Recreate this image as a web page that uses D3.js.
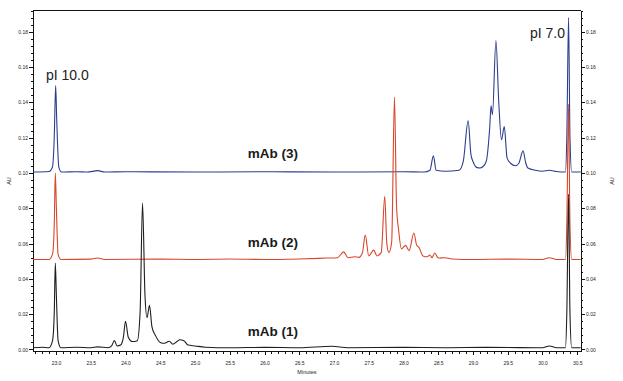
<!DOCTYPE html>
<html>
<head>
<meta charset="utf-8">
<script src="https://cdn.jsdelivr.net/npm/d3@7"></script>
<style>
  body { margin: 0; background: #fff; }
  svg { display: block; font-family: "Liberation Sans", Arial, sans-serif; }
  .axis path, .axis line { stroke: #111; stroke-width: 1; shape-rendering: crispEdges; }
  .axis text { font-size: 5px; fill: #222; }
</style>
</head>
<body>
<svg id="chart" width="623" height="381"></svg>
<script>
// trace names, baselines (AU) and colours
var names = ["mAb (1)", "mAb (2)", "mAb (3)"];
var baselines = [0.001, 0.051, 0.1005];
var colors = ["#1e1e1e", "#d8462c", "#2b3f8e"];

// [minutes, AU above baseline]
var mab1 = [[22.67,0],[22.8,0.0003],[22.9,0],[22.95,0.004],[22.975,0.02],[22.99,0.048],[23.005,0.03],[23.03,0.004],[23.07,0],[23.3,0.0003],[23.5,0],[23.6,0.0005],[23.75,0],[23.8,0.001],[23.84,0.004],[23.88,0.001],[23.93,0.0015],[23.97,0.006],[24.0,0.015],[24.04,0.006],[24.1,0.0035],[24.17,0.004],[24.21,0.02],[24.245,0.082],[24.28,0.03],[24.31,0.017],[24.345,0.024],[24.38,0.012],[24.43,0.007],[24.5,0.003],[24.56,0.0025],[24.63,0.0037],[24.68,0.002],[24.74,0.0035],[24.78,0.0045],[24.84,0.004],[24.9,0.0015],[25.0,0.001],[25.15,0.0003],[25.5,0],[26.0,0.0002],[26.5,0],[26.97,0.0008],[27.2,0],[28.0,0.0002],[28.6,0],[29.2,0.0002],[30.0,0],[30.1,0.001],[30.2,0],[30.33,0],[30.35,0.02],[30.375,0.087],[30.395,0.02],[30.42,0],[30.55,0]];
var mab2 = [[22.67,0],[22.9,0],[22.95,0.003],[22.975,0.02],[22.99,0.049],[23.005,0.03],[23.03,0.003],[23.07,0],[23.5,0.0002],[23.6,0.0008],[23.7,0],[24.5,0.0002],[25.0,0],[25.5,0.0003],[26.0,0],[26.5,0.0003],[26.9,0.0008],[27.05,0.001],[27.14,0.0043],[27.2,0.001],[27.3,0.0015],[27.36,0.0012],[27.41,0.004],[27.45,0.0138],[27.5,0.002],[27.57,0.0053],[27.62,0.002],[27.68,0.004],[27.73,0.0358],[27.76,0.009],[27.79,0.004],[27.83,0.01],[27.87,0.092],[27.9,0.03],[27.93,0.0166],[27.97,0.006],[28.03,0.008],[28.08,0.005],[28.15,0.015],[28.19,0.008],[28.22,0.007],[28.28,0.002],[28.34,0.0015],[28.38,0.0025],[28.41,0.001],[28.45,0.0037],[28.5,0.0008],[28.59,0.001],[28.7,0.0003],[29.0,0],[29.5,0.0002],[30.0,0],[30.1,0.001],[30.2,0],[30.33,0],[30.35,0.02],[30.375,0.088],[30.395,0.02],[30.42,0],[30.55,0]];
var mab3 = [[22.67,0],[22.9,0.0003],[22.95,0.003],[22.975,0.02],[22.995,0.049],[23.01,0.03],[23.04,0.003],[23.08,0],[23.3,0.0002],[23.45,0],[23.6,0.0008],[23.7,0],[24.0,0.0002],[25,0],[26,0.0002],[27,0],[28,0.0002],[28.3,0],[28.38,0.001],[28.43,0.0092],[28.47,0.001],[28.6,0.0005],[28.8,0.001],[28.86,0.006],[28.93,0.029],[28.97,0.01],[29.0,0.006],[29.06,0.0025],[29.1,0.0023],[29.14,0.003],[29.19,0.006],[29.24,0.025],[29.26,0.0376],[29.28,0.0325],[29.33,0.0745],[29.37,0.04],[29.41,0.0183],[29.45,0.0258],[29.49,0.008],[29.54,0.005],[29.61,0.0036],[29.66,0.005],[29.72,0.012],[29.76,0.005],[29.79,0.0023],[29.9,0.001],[30.0,0.0005],[30.1,0.001],[30.2,0.0003],[30.33,0],[30.35,0.02],[30.375,0.0875],[30.395,0.02],[30.42,0],[30.55,0]];

// tick values
var xTicks = d3.range(23, 30.51, 0.5);
var yTicks = d3.range(0, 0.181, 0.02);

// marker labels
var markers = [{label: "pI 10.0", t: 22.856, v: 0.1527}, {label: "pI 7.0", t: 30.324, v: 0.1764}];

var svg = d3.select("#chart");
var m = {left: 33, right: 581, top: 10, bottom: 351};

var x = d3.scaleLinear().domain([22.669, 30.554]).range([m.left, m.right]);
var y = d3.scaleLinear().domain([-0.00085, 0.1923]).range([m.bottom, m.top]);

// minor ticks
svg.append("g").attr("class", "axis")
  .attr("transform", "translate(0," + m.bottom + ")")
  .call(d3.axisBottom(x).tickValues(d3.range(22.7, 30.55, 0.1)).tickSize(2.5).tickFormat(""))
  .select(".domain").remove();
svg.append("g").attr("class", "axis")
  .attr("transform", "translate(" + m.left + ",0)")
  .call(d3.axisLeft(y).tickValues(d3.range(0, 0.1921, 0.004)).tickSize(2).tickFormat(""))
  .select(".domain").remove();
svg.append("g").attr("class", "axis")
  .attr("transform", "translate(" + m.right + ",0)")
  .call(d3.axisRight(y).tickValues(d3.range(0, 0.1921, 0.004)).tickSize(2).tickFormat(""))
  .select(".domain").remove();

// major axes
svg.append("g").attr("class", "axis")
  .attr("transform", "translate(0," + m.bottom + ")")
  .call(d3.axisBottom(x).tickValues(xTicks).tickSize(4).tickSizeOuter(0).tickPadding(6).tickFormat(d3.format(".1f")));
svg.append("g").attr("class", "axis")
  .attr("transform", "translate(" + m.left + ",0)")
  .call(d3.axisLeft(y).tickValues(yTicks).tickSize(4).tickSizeOuter(0).tickPadding(1).tickFormat(d3.format(".2f")));
svg.append("g").attr("class", "axis")
  .attr("transform", "translate(" + m.right + ",0)")
  .call(d3.axisRight(y).tickValues(yTicks).tickSize(4).tickSizeOuter(0).tickPadding(1).tickFormat(d3.format(".2f")));

// top border
svg.append("line")
  .attr("x1", m.left).attr("x2", m.right).attr("y1", m.top).attr("y2", m.top)
  .attr("stroke", "#111").attr("shape-rendering", "crispEdges");

// axis titles
svg.append("text").attr("x", (m.left + m.right) / 2).attr("y", 374)
  .attr("text-anchor", "middle").attr("font-size", 5.5).attr("fill", "#222").text("Minutes");
svg.append("text").attr("transform", "translate(11,181) rotate(-90)")
  .attr("text-anchor", "middle").attr("font-size", 5.5).attr("fill", "#222").text("AU");
svg.append("text").attr("transform", "translate(614,181) rotate(-90)")
  .attr("text-anchor", "middle").attr("font-size", 5.5).attr("fill", "#222").text("AU");

// traces
var traces = [mab1, mab2, mab3];
var order = [2, 1, 0];
order.forEach(function(i) {
  var line = d3.line()
    .x(function(d) { return x(d[0]); })
    .y(function(d) { return y(d[1] + baselines[i]); })
    .curve(d3.curveMonotoneX);
  svg.append("path")
    .datum(traces[i])
    .attr("d", line)
    .attr("fill", "none")
    .attr("stroke", colors[i])
    .attr("stroke-width", 1.1)
    .attr("stroke-linejoin", "round");
});

// trace labels
var labelT = [25.76, 25.76, 25.76];
var labelV = [0.0075, 0.058, 0.1085];
names.forEach(function(n, i) {
  svg.append("text")
    .attr("x", x(labelT[i]))
    .attr("y", y(labelV[i]))
    .attr("font-size", 13.5)
    .attr("font-weight", "bold")
    .attr("fill", "#1a1a1a")
    .text(n);
});

// marker labels
markers.forEach(function(mk, i) {
  svg.append("text")
    .attr("x", x(mk.t))
    .attr("y", y(mk.v))
    .attr("font-size", 14)
    .attr("text-anchor", i == 1 ? "end" : "start")
    .attr("fill", "#222")
    .text(mk.label);
});
</script>
</body>
</html>
